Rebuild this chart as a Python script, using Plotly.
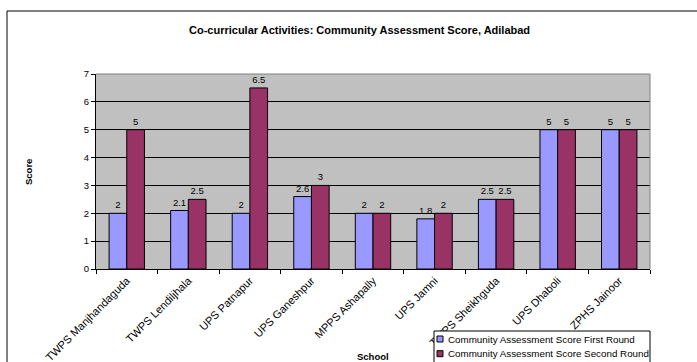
import plotly.graph_objects as go

schools = ["TWPS Manjhandaguda", "TWPS Lendiljhala", "UPS Patnapur", "UPS Ganeshpur",
           "MPPS Ashapally", "UPS Jamni", "TWPS Sheikhguda", "UPS Dhaboli", "ZPHS Jainoor"]
first_round = [2, 2.1, 2, 2.6, 2, 1.8, 2.5, 5, 5]
second_round = [5, 2.5, 6.5, 3, 2, 2, 2.5, 5, 5]
series_names = ["Community Assessment Score First Round",
                "Community Assessment Score Second Round"]
series_colors = ["#9999FF", "#993366"]
y_ticks = [0, 1, 2, 3, 4, 5, 6, 7]

W, H = 697, 362
L, R, T, B = 96, 47, 74, 93
PW, PH = W - L - R, H - T - B
FONT = "Liberation Sans, Arial, sans-serif"


def px(x):
    return (x - L) / PW


def py(y):
    return (H - B - y) / PH


fig = go.Figure()
for name, vals, col in zip(series_names, [first_round, second_round], series_colors):
    fig.add_trace(go.Bar(
        x=schools, y=vals, name=name,
        marker=dict(color=col, line=dict(color="black", width=1)),
        text=[f"{v:g}" for v in vals], textposition="outside",
        textfont=dict(family=FONT, size=9.5, color="black"),
        constraintext="none", cliponaxis=False, showlegend=False,
    ))

shapes = [
    # outer chart border
    dict(type="rect", xref="paper", yref="paper", x0=px(7), y0=py(380), x1=px(720), y1=py(11),
         line=dict(color="black", width=1), fillcolor="rgba(0,0,0,0)", layer="below"),
    # plot area top/right border (gray)
    dict(type="line", xref="x domain", yref="y domain", x0=0, x1=1, y0=1, y1=1,
         line=dict(color="#808080", width=1), layer="above"),
    dict(type="line", xref="x domain", yref="y domain", x0=1, x1=1, y0=0, y1=1,
         line=dict(color="#808080", width=1), layer="above"),
    # legend box
    dict(type="rect", xref="paper", yref="paper", x0=px(434), y0=py(375), x1=px(650), y1=py(331),
         line=dict(color="black", width=1), fillcolor="white", layer="above"),
]
annotations = [
    dict(text="<b>Co-curricular Activities: Community Assessment Score, Adilabad</b>",
         xref="paper", yref="paper", x=px(359), y=py(30), showarrow=False,
         xanchor="center", yanchor="middle", font=dict(family=FONT, size=11, color="black")),
    dict(text="<b>Score</b>", xref="paper", yref="paper", x=px(28), y=py(172), showarrow=False,
         textangle=-90, xanchor="center", yanchor="middle",
         font=dict(family=FONT, size=9.5, color="black")),
    dict(text="<b>School</b>", xref="paper", yref="paper", x=px(373), y=py(356), showarrow=False,
         xanchor="center", yanchor="middle", font=dict(family=FONT, size=9.5, color="black")),
]
for i, (name, col) in enumerate(zip(series_names, series_colors)):
    yc = 339 + i * 14.7
    shapes.append(dict(type="rect", xref="paper", yref="paper",
                       x0=px(437), x1=px(443), y0=py(yc + 3), y1=py(yc - 3),
                       line=dict(color="black", width=1), fillcolor=col, layer="above"))
    annotations.append(dict(text=name, xref="paper", yref="paper", x=px(446), y=py(yc),
                            showarrow=False, xanchor="left", yanchor="middle",
                            font=dict(family=FONT, size=9.8, color="black")))

fig.update_layout(
    width=W, height=H,
    margin=dict(l=L, r=R, t=T, b=B, autoexpand=False),
    paper_bgcolor="white", plot_bgcolor="#C0C0C0",
    barmode="group", bargap=0.425, bargroupgap=0,
    showlegend=False,
    shapes=shapes, annotations=annotations,
    font=dict(family=FONT, size=9, color="black"),
)
fig.update_xaxes(
    type="category", tickangle=-45, tickson="boundaries", ticks="outside", ticklen=4,
    tickcolor="black", showline=True, linecolor="black", linewidth=1, showgrid=False,
    tickfont=dict(family=FONT, size=11, color="black"), automargin=False,
)
fig.update_yaxes(
    range=[0, 7], tickvals=y_ticks, ticks="outside", ticklen=4, tickcolor="black",
    showline=True, linecolor="black", linewidth=1, showgrid=True, gridcolor="black",
    gridwidth=1, zeroline=False, tickfont=dict(family=FONT, size=9.5, color="black"),
    automargin=False,
)

fig.write_html("out.html", post_script="document.body.style.margin='0';",
               config={"displayModeBar": False})
